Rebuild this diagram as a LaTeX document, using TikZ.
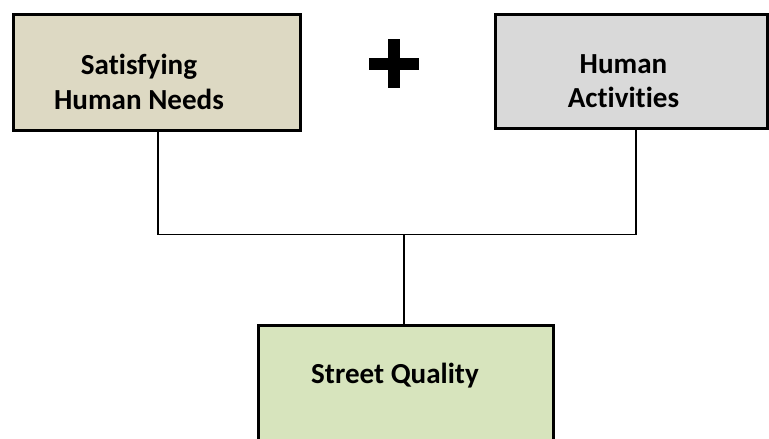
\documentclass[tikz,border=0pt]{standalone}
\usepackage{fontspec}
\setmainfont{Carlito}[Ligatures=NoCommon]
\definecolor{needsfill}{RGB}{221,217,195}
\definecolor{actsfill}{RGB}{217,217,217}
\definecolor{qualfill}{RGB}{215,228,189}

\begin{document}
\begin{tikzpicture}[x=0.75pt,y=0.75pt,yscale=-1,xscale=1,
  boxnode/.style={draw=black, line width=2.25pt, inner sep=0pt},
  txtnode/.style={font=\bfseries\fontsize{21.8}{26.25}\selectfont, align=center, inner sep=0.75pt, anchor=base},
  link/.style={draw=black, line width=0.9pt}]
%set diagram left start at 0, and has height of 439
\clip (0,0) rectangle (769,439);

%Shape: Rectangle [needs]
\node [boxnode, fill=needsfill, minimum width=215.25pt, minimum height=87pt] (needs) at (157,72.5) {};
%Shape: Rectangle [activities]
\node [boxnode, fill=actsfill, minimum width=204pt, minimum height=85.5pt] (acts) at (631.5,71.5) {};
%Shape: Rectangle [quality]
\node [boxnode, fill=qualfill, minimum width=221.25pt, minimum height=105pt] (quality) at (406,395) {};

%Shape: Plus
\fill (388,39) rectangle (400,88);
\fill (369,58) rectangle (419,70);

%Straight Lines
\coordinate (join) at (404,234.3);
\draw [link] ([xshift=0.75pt]needs.south) |- (join) -| ([xshift=3.4pt]acts.south);
\draw [link] (join) -- (join |- quality.north);

% Text Node
\node [txtnode] (needslbl) at (139,109) {Satisfying\\Human Needs};
% Text Node
\node [txtnode] (actslbl) at (623.5,108) {Human\\Activities};
% Text Node
\node [txtnode] (qualitylbl) at (395,383) {Street Quality};

\end{tikzpicture}
\end{document}
